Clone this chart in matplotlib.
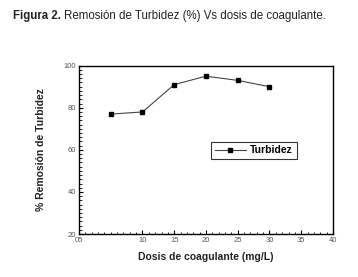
import matplotlib
matplotlib.use("Agg")
import matplotlib.pyplot as plt
from matplotlib.ticker import MultipleLocator, FixedLocator

dosis = [5, 10, 15, 20, 25, 30]
turbidez = [77, 78, 91, 95, 93, 90]
xticks = [0, 10, 15, 20, 25, 30, 35, 40]
xticklabels = ["05", "10", "15", "20", "25", "30", "35", "40"]
yticks = [20, 40, 60, 80, 100]

plt.rcParams['font.family'] = ['Liberation Sans', 'DejaVu Sans']

fig = plt.figure(figsize=(3.58, 2.77), dpi=100)
ax = fig.add_axes([0.2207, 0.155, 0.7093, 0.608])

ax.plot(dosis, turbidez, color="#444444", lw=0.8, marker="s", markersize=3.5,
        markerfacecolor="black", markeredgecolor="black", label="Turbidez")

ax.set_xlim(0, 40)
ax.set_ylim(20, 100)
ax.xaxis.set_major_locator(FixedLocator(xticks))
ax.set_xticklabels(xticklabels)
ax.xaxis.set_minor_locator(MultipleLocator(1))
ax.yaxis.set_major_locator(FixedLocator(yticks))
ax.yaxis.set_minor_locator(MultipleLocator(2))
ax.tick_params(which="both", direction="in", top=False, right=False,
               labelsize=5.5, labelcolor="#555555", pad=2)
ax.tick_params(which="major", length=3, width=0.8)
ax.tick_params(which="minor", length=1.8, width=0.6)
for s in ax.spines.values():
    s.set_linewidth(1.0)

ax.set_xlabel("Dosis de coagulante (mg/L)", fontsize=7.5, fontweight="bold",
              color="#222222", labelpad=6)
ax.set_ylabel("% Remosión de Turbidez", fontsize=7.5, fontweight="bold",
              color="#222222", labelpad=13)

leg = ax.legend(loc="upper left", bbox_to_anchor=(0.50, 0.58),
                frameon=True, fancybox=False, edgecolor="black",
                handlelength=3.0, borderpad=0.35, handletextpad=0.4,
                prop={"weight": "bold", "size": 7.5})
leg.get_frame().set_linewidth(0.8)

t1 = fig.text(13 / 358, 0.942, "Figura 2.", fontsize=8.3, fontweight="bold",
              color="#222222", va="center")
fig.canvas.draw()
bb = t1.get_window_extent(renderer=fig.canvas.get_renderer())
fig.text((bb.x1 + 3) / 358, 0.942, "Remosión de Turbidez (%) Vs dosis de coagulante.",
         fontsize=8.3, color="#222222", va="center")

fig.savefig("out.png", dpi=100)
